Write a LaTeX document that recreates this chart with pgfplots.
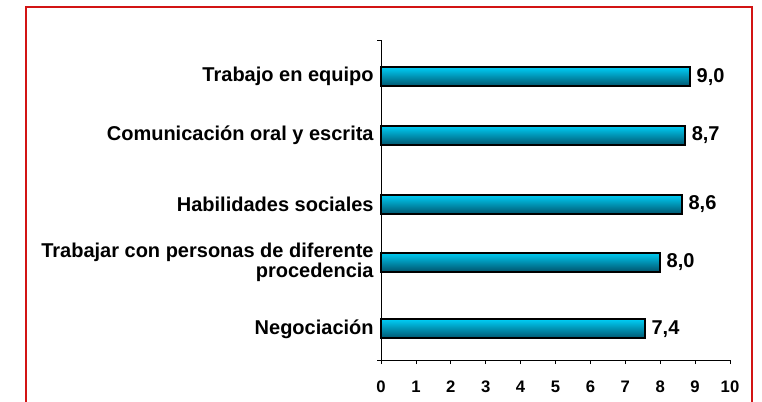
\documentclass[border=0pt]{standalone}
\usepackage{fontspec}
\setmainfont{Liberation Sans}
\usepackage{pgfplots}
\usepackage{pgfplotstable}
\pgfplotsset{compat=1.18}

\definecolor{barTop}{RGB}{0,205,245}
\definecolor{barMid}{RGB}{0,175,215}
\definecolor{barBot}{RGB}{0,85,110}
\definecolor{frameRed}{RGB}{210,20,20}

% x = value, y = bar centre (axis units = pixels from the x axis)
\pgfplotstableread{
x    y     lab
8.85 283.3 9,0
8.71 224.5 8,7
8.62 155.5 8,6
7.99 98.0  8,0
7.56 31.2  7,4
}\data

\pgfplotsset{
  onebar/.style={xbar, bar width=14.25pt, bar shift=0pt, draw=black, line width=1.5pt,
    top color=barTop, middle color=barMid, bottom color=barBot},
}

\begin{document}
\begin{tikzpicture}
\path[use as bounding box] (0,0) rectangle (571.5pt,300.75pt);
\draw[frameRed, line width=1.4pt] (19.5pt,-10pt) rectangle (564pt,295.5pt);
\begin{axis}[
  at={(285.75pt,30.75pt)}, anchor=origin,
  scale only axis, width=261.75pt, height=240pt,
  xmin=0, xmax=10, ymin=0, ymax=320,
  axis x line=bottom, axis y line=left,
  axis line style={-, black, line width=0.6pt},
  xtick={0,...,10},
  tick align=outside,
  major tick length=3pt,
  xtick style={black, line width=0.6pt},
  ytick={283.3,224.5,155.5,98,31.2},
  ytick style={draw=none},
  yticklabels={Trabajo en equipo, Comunicación oral y escrita, Habilidades sociales, {Trabajar con personas de diferente\\procedencia}, Negociación},
  yticklabel style={align=right, font=\bfseries\fontsize{15}{15}\selectfont, xshift=1pt},
  xticklabel style={font=\bfseries\fontsize{12.5}{12.5}\selectfont, yshift=-9pt},
  /pgf/number format/assume math mode=true,
  clip=false,
  nodes near coords,
  point meta=explicit symbolic,
  every node near coord/.append style={anchor=west, font=\bfseries\fontsize{15}{15}\selectfont, xshift=1pt},
]
\addplot[onebar] table[x=x, y=y, meta=lab, skip coords between index={1}{5}] {\data};
\addplot[onebar] table[x=x, y=y, meta=lab, skip coords between index={0}{1}, skip coords between index={2}{5}] {\data};
\addplot[onebar] table[x=x, y=y, meta=lab, skip coords between index={0}{2}, skip coords between index={3}{5}] {\data};
\addplot[onebar] table[x=x, y=y, meta=lab, skip coords between index={0}{3}, skip coords between index={4}{5}] {\data};
\addplot[onebar] table[x=x, y=y, meta=lab, skip coords between index={0}{4}] {\data};
\draw[black, line width=0.6pt] (rel axis cs:0,1) -- ++(-3pt,0);
\draw[black, line width=0.6pt] (rel axis cs:0,0) -- ++(-3pt,0);
\end{axis}
\end{tikzpicture}
\end{document}
